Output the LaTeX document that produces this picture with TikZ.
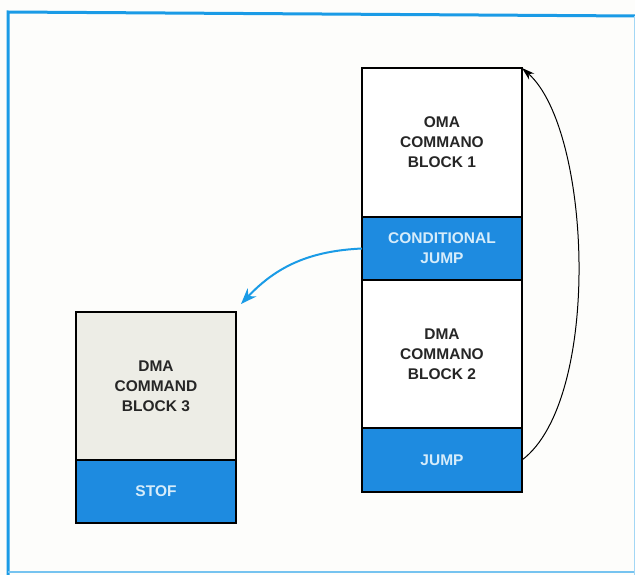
\documentclass[tikz,border=0pt]{standalone}
\usepackage{fontspec}
\setmainfont{Liberation Sans}
\usetikzlibrary{arrows.meta,positioning}
\definecolor{bandblue}{HTML}{1E8BE0}
\definecolor{framblue}{HTML}{1A9BE6}
\definecolor{bandtext}{HTML}{D6ECFA}
\definecolor{paper}{HTML}{FDFDFB}
\definecolor{greyfill}{HTML}{EDEDE6}

\begin{document}
\begin{tikzpicture}[x=1pt,y=-1pt,
    block/.style={draw=black,line width=2.5pt,outer sep=0pt,minimum width=160pt,
        align=center,text=black!85,font=\fontsize{15.5}{20}\selectfont\bfseries},
    band/.style={block,fill=bandblue,text=bandtext,minimum height=63pt}]
\useasboundingbox (0,0) rectangle (635,575);
\fill[paper] (0,0) rectangle (635,575);

\draw[framblue,line width=3pt] (8,575) -- (8,12) -- (635,16);
\draw[framblue!60,line width=1.5pt] (8,572) -- (635,572);
\draw[framblue!40,line width=1pt] (634,16) -- (634,575);

\node[block,fill=white,minimum height=149pt,anchor=north] (blockone) at (442,68)
    {OMA\\COMMANO\\BLOCK 1};
\node[band,below=0pt of blockone] (condjump) {CONDITIONAL\\JUMP};
\node[block,fill=white,minimum height=148pt,below=0pt of condjump] (blocktwo)
    {DMA\\COMMANO\\BLOCK 2};
\node[band,minimum height=64pt,below=0pt of blocktwo] (jump) {JUMP};

\node[block,fill=greyfill,minimum height=148pt,anchor=north] (blockthree) at (156,312)
    {DMA\\COMMAND\\BLOCK 3};
\node[band,below=0pt of blockthree] (stop) {STOF};

\coordinate (tipthree) at (241,304);

\draw[line width=1pt,-{Stealth[length=13pt,width=8pt]}] (jump.east)
    .. controls (602,400) and (592,130) .. (blockone.north east);
\draw[framblue,line width=2pt,-{Stealth[length=16pt,width=12pt]}] (condjump.west)
    to[bend right=22] (tipthree);
\end{tikzpicture}
\end{document}
